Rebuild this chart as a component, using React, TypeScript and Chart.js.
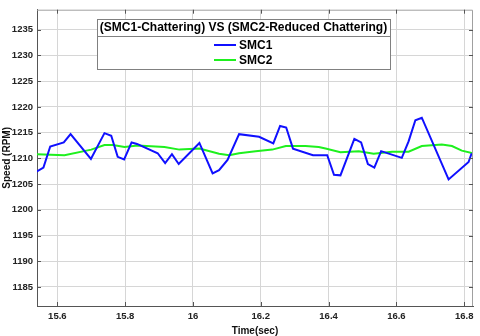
import React, { useEffect, useRef } from "react";
import { Chart, registerables } from "chart.js";

Chart.register(...registerables);

const legendTitle = "(SMC1-Chattering) VS (SMC2-Reduced Chattering)";
const seriesNames = ["SMC1", "SMC2"];
const xTicks = [15.6, 15.8, 16, 16.2, 16.4, 16.6, 16.8];
const yTicks = [1185, 1190, 1195, 1200, 1205, 1210, 1215, 1220, 1225, 1230, 1235];

const smc1Time = [15.538, 15.559, 15.579, 15.619, 15.639, 15.699, 15.739, 15.759, 15.778, 15.797, 15.819, 15.835, 15.896, 15.918, 15.938, 15.958, 16.019, 16.058, 16.077, 16.102, 16.136, 16.195, 16.237, 16.257, 16.275, 16.295, 16.354, 16.396, 16.416, 16.435, 16.476, 16.496, 16.516, 16.535, 16.555, 16.616, 16.636, 16.656, 16.675, 16.754, 16.813, 16.822];
const smc1Speed = [1207.4, 1208.2, 1212.3, 1213.1, 1214.7, 1209.9, 1214.9, 1214.4, 1210.3, 1209.8, 1213.1, 1212.8, 1211.0, 1209.1, 1210.8, 1208.9, 1213.0, 1207.1, 1207.7, 1209.7, 1214.7, 1214.2, 1212.9, 1216.3, 1216.0, 1211.9, 1210.6, 1210.6, 1206.8, 1206.7, 1213.8, 1213.1, 1208.9, 1208.2, 1211.4, 1210.1, 1213.3, 1217.4, 1217.9, 1205.9, 1209.3, 1211.0];

const smc2Time = [15.54, 15.621, 15.7, 15.739, 15.764, 15.798, 15.837, 15.916, 15.96, 16.019, 16.077, 16.107, 16.136, 16.185, 16.234, 16.274, 16.332, 16.371, 16.391, 16.435, 16.489, 16.533, 16.587, 16.636, 16.675, 16.734, 16.764, 16.793, 16.826];
const smc2Speed = [1210.8, 1210.6, 1211.7, 1212.6, 1212.6, 1212.2, 1212.5, 1212.2, 1211.7, 1211.9, 1210.9, 1210.6, 1211.0, 1211.4, 1211.7, 1212.4, 1212.4, 1212.2, 1211.9, 1211.2, 1211.4, 1210.9, 1211.3, 1211.3, 1212.4, 1212.7, 1212.4, 1211.5, 1211.0];

const blue = "#1010ff";
const green = "#1ef01e";

const boxPlugin = {
  id: "matlabBoxLegend",
  afterDraw(chart: any) {
    const { ctx, chartArea, scales } = chart;
    ctx.save();
    ctx.strokeStyle = "#a0a0a0";
    ctx.lineWidth = 1;
    ctx.beginPath();
    ctx.moveTo(chartArea.left, chartArea.top + 0.5);
    ctx.lineTo(chartArea.right - 0.5, chartArea.top + 0.5);
    ctx.lineTo(chartArea.right - 0.5, chartArea.bottom);
    ctx.stroke();

    // inward tick marks (MATLAB style)
    ctx.strokeStyle = "#555";
    ctx.beginPath();
    xTicks.forEach((v) => {
      const px = Math.round(scales.x.getPixelForValue(v)) + 0.5;
      ctx.moveTo(px, chartArea.bottom);
      ctx.lineTo(px, chartArea.bottom - 4);
      ctx.moveTo(px, chartArea.top);
      ctx.lineTo(px, chartArea.top + 4);
    });
    yTicks.forEach((v) => {
      const py = Math.round(scales.y.getPixelForValue(v)) + 0.5;
      ctx.moveTo(chartArea.left, py);
      ctx.lineTo(chartArea.left + 4, py);
      ctx.moveTo(chartArea.right, py);
      ctx.lineTo(chartArea.right - 4, py);
    });
    ctx.stroke();

    const bx = 97, by = 19, bw = 293, bh = 50, divY = 36;
    ctx.fillStyle = "#ffffff";
    ctx.fillRect(bx, by, bw, bh);
    ctx.strokeStyle = "#808080";
    ctx.strokeRect(bx + 0.5, by + 0.5, bw, bh);
    ctx.beginPath();
    ctx.moveTo(bx, divY + 0.5);
    ctx.lineTo(bx + bw, divY + 0.5);
    ctx.stroke();
    ctx.fillStyle = "#000";
    ctx.font = "bold 12px 'Liberation Sans', Arial, sans-serif";
    ctx.textAlign = "center";
    ctx.textBaseline = "middle";
    ctx.fillText(legendTitle, bx + bw / 2, 28);
    ctx.textAlign = "left";
    const ds = chart.data.datasets;
    const rows = [45, 60];
    ds.forEach((d: any, i: number) => {
      ctx.strokeStyle = d.borderColor;
      ctx.lineWidth = 2;
      ctx.beginPath();
      ctx.moveTo(214, rows[i]);
      ctx.lineTo(236, rows[i]);
      ctx.stroke();
      ctx.fillStyle = "#000";
      ctx.fillText(d.label, 239, rows[i] + 1);
    });
    ctx.restore();
  },
};

export default function App() {
  const ref = useRef<HTMLCanvasElement>(null);
  useEffect(() => {
    document.body.style.margin = "0";
    const tickFont = { family: "'Liberation Sans', Arial, sans-serif", size: 9.5, weight: "bold" as const };
    const titleFont = { family: "'Liberation Sans', Arial, sans-serif", size: 10, weight: "bold" as const };
    const chart = new Chart(ref.current!, {
      type: "line",
      data: {
        datasets: [
          {
            label: seriesNames[0],
            data: smc1Time.map((t, i) => ({ x: t, y: smc1Speed[i] })),
            borderColor: blue,
            borderWidth: 2,
            pointRadius: 0,
            tension: 0,
          },
          {
            label: seriesNames[1],
            data: smc2Time.map((t, i) => ({ x: t, y: smc2Speed[i] })),
            borderColor: green,
            borderWidth: 2,
            pointRadius: 0,
            tension: 0,
          },
        ],
      },
      options: {
        responsive: false,
        animation: false,
        layout: { padding: { top: 5, right: 7, left: 0, bottom: 0 } },
        plugins: { legend: { display: false }, tooltip: { enabled: false } },
        scales: {
          x: {
            type: "linear",
            min: 15.54,
            max: 16.826,
            afterBuildTicks: (s: any) => {
              s.ticks = xTicks.map((v) => ({ value: v }));
            },
            afterFit: (s: any) => {
              s.height = 30;
            },
            ticks: { font: tickFont, color: "#222", padding: 5, maxRotation: 0, callback: (v: any) => String(v) },
            grid: { color: "#d6d6d6", drawTicks: false },
            border: { color: "#555", width: 1 },
            title: { display: true, text: "Time(sec)", font: titleFont, color: "#111", padding: { top: 0, bottom: -1 } },
          },
          y: {
            type: "linear",
            min: 1181.3,
            max: 1238.9,
            afterBuildTicks: (s: any) => {
              s.ticks = yTicks.map((v) => ({ value: v }));
            },
            afterFit: (s: any) => {
              s.width = 37;
            },
            ticks: { font: tickFont, color: "#222", padding: 4, callback: (v: any) => String(v) },
            grid: { color: "#d6d6d6", drawTicks: false },
            border: { color: "#555", width: 1 },
            title: { display: true, text: "Speed (RPM)", font: titleFont, color: "#111", padding: { top: 1, bottom: 0 } },
          },
        },
      },
      plugins: [boxPlugin],
    });
    return () => chart.destroy();
  }, []);
  return (
    <div style={{ position: "fixed", left: 0, top: 0, width: 480, height: 336, background: "#fff" }}>
      <canvas ref={ref} width={480} height={336} />
    </div>
  );
}
